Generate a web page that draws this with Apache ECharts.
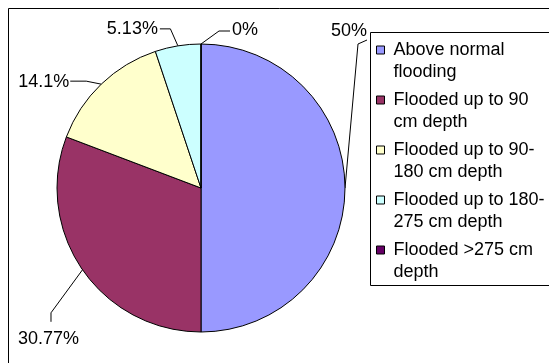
<!DOCTYPE html>
<html>
<head>
<meta charset="utf-8">
<script src="https://cdn.jsdelivr.net/npm/echarts@6/dist/echarts.min.js"></script>
<style>
html,body{margin:0;padding:0;background:#fff;}
#chart{width:549px;height:363px;}
</style>
</head>
<body>
<div id="chart"></div>
<script>
// Data
const categories = [
  'Above normal flooding',
  'Flooded up to 90 cm depth',
  'Flooded up to 90-180 cm depth',
  'Flooded up to 180-275 cm depth',
  'Flooded >275 cm depth'
];
const legendLines = [
  'Above normal\nflooding',
  'Flooded up to 90\ncm depth',
  'Flooded up to 90-\n180 cm depth',
  'Flooded up to 180-\n275 cm depth',
  'Flooded >275 cm\ndepth'
];
const percentValues = [50, 30.77, 14.1, 5.13, 0];
const sliceColors = ['#9999FF', '#993366', '#FFFFCC', '#CCFFFF', '#660066'];

// label placement relative to the slice's edge anchor (styling only)
const labelOffsets = [
  {bx: 13, by: -144, ex: 22, ey: -148, lx: 22, ly: -157, align: 'right'},
  {bx: -31.5, by: 43, ex: -31.5, ey: 52, lx: -64.5, ly: 69, align: 'left'},
  {bx: -15, by: -3, ex: -31, ey: -3, lx: -32, ly: -2, align: 'right'},
  {bx: -7.5, by: -17, ex: -18, ey: -17, lx: -20, ly: -17, align: 'right'},
  {bx: 18, by: -13, ex: 29, ey: -13, lx: 31, ly: -14, align: 'left'}
];

const chart = echarts.init(document.getElementById('chart'), null, {renderer: 'canvas'});
const FONT = '"Liberation Sans", Arial, sans-serif';

chart.setOption({
  backgroundColor: '#ffffff',
  animation: false,
  color: sliceColors,
  graphic: [
    {type: 'rect', z: -10, shape: {x: 8.5, y: 8.5, width: 620, height: 420},
     style: {fill: 'none', stroke: '#000', lineWidth: 1}},
    {type: 'rect', z: -5, shape: {x: 370.5, y: 32.5, width: 220, height: 253},
     style: {fill: '#fff', stroke: '#000', lineWidth: 1}}
  ],
  legend: {
    orient: 'vertical',
    left: 376,
    top: 17,
    padding: 0,
    itemGap: -16,
    itemWidth: 8,
    itemHeight: 8,
    icon: 'rect',
    itemStyle: {borderColor: '#000', borderWidth: 1},
    data: categories,
    formatter: function (name) { return '\n' + legendLines[categories.indexOf(name)]; },
    textStyle: {fontFamily: FONT, fontSize: 18, color: '#000', lineHeight: 22,
                padding: [0, 0, 0, 4]}
  },
  series: [{
    type: 'pie',
    center: [201, 188],
    radius: 144,
    startAngle: 90,
    clockwise: true,
    avoidLabelOverlap: false,
    minShowLabelAngle: -1,
    data: categories.map((c, i) => ({name: c, value: percentValues[i]})),
    itemStyle: {borderColor: '#000', borderWidth: 1},
    emphasis: {disabled: true},
    label: {
      show: true,
      position: 'outside',
      formatter: '{c}%',
      fontFamily: FONT,
      fontSize: 18,
      color: '#000'
    },
    labelLine: {show: true, lineStyle: {color: '#000', width: 1}},
    labelLayout: function (p) {
      const pts = p.labelLinePoints;
      if (!pts || !pts[0]) return {};
      const a = pts[0];
      const o = labelOffsets[p.dataIndex];
      return {
        x: a[0] + o.lx,
        y: a[1] + o.ly,
        align: o.align,
        verticalAlign: 'middle',
        labelLinePoints: [
          [a[0], a[1]],
          [a[0] + o.bx, a[1] + o.by],
          [a[0] + o.ex, a[1] + o.ey]
        ]
      };
    }
  }]
});
</script>
</body>
</html>
